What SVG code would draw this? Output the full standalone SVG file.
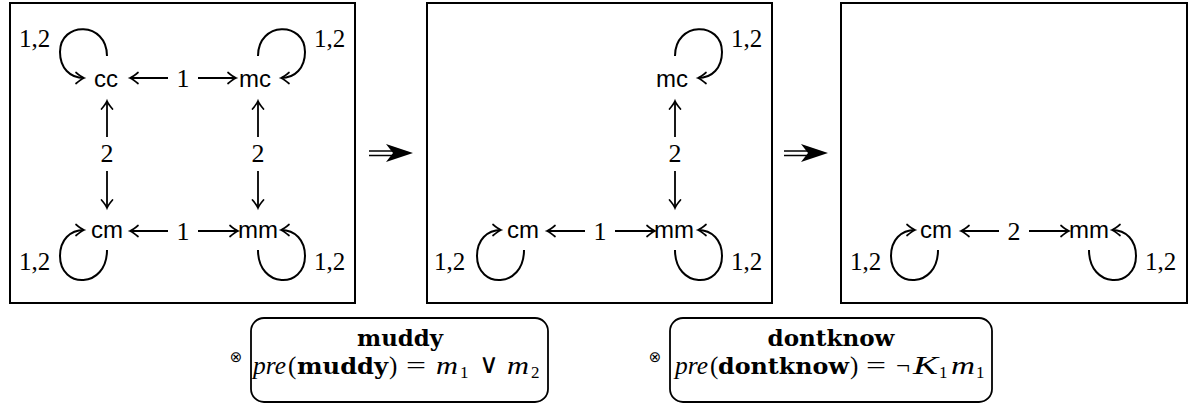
<svg xmlns="http://www.w3.org/2000/svg" width="1199" height="406" viewBox="0 0 1199 406">
<style>
.frame{fill:#fff;stroke:#000;stroke-width:2}
.ev{fill:#fff;stroke:#000;stroke-width:1.8}
.st{font-family:"Liberation Sans","DejaVu Sans",sans-serif;font-size:24px;fill:#000;text-anchor:middle}
.lb{font-family:"Liberation Serif","DejaVu Serif",serif;font-size:25px;fill:#000}
.lbm{font-family:"Liberation Serif","DejaVu Serif",serif;font-size:26px;fill:#000;text-anchor:middle}
.e{fill:none;stroke:#000;stroke-width:1.8;marker-end:url(#to)}
.lp{fill:none;stroke:#000;stroke-width:2;marker-end:url(#to)}
.tx{font-family:"Liberation Serif","DejaVu Serif",serif;font-size:25px;fill:#000}
.b{font-family:"DejaVu Serif","Liberation Serif",serif;font-weight:bold;font-size:22px}
.it{font-style:italic}
.sub{font-size:17px}
.ot{font-family:"DejaVu Sans",sans-serif;font-size:15px;fill:#000;text-anchor:middle}
</style>
<defs>
<marker id="to" markerUnits="userSpaceOnUse" markerWidth="16" markerHeight="16" refX="0" refY="0" viewBox="-10 -8 12 16" orient="auto" overflow="visible">
<path d="M-8,-5.5 Q-3,-1.2 0,0 Q-3,1.2 -8,5.5" fill="none" stroke="#000" stroke-width="1.7" stroke-linecap="round"/>
</marker>
</defs>
<rect width="1199" height="406" fill="#fff"/>

<g id="model1">
<rect class="frame" x="10" y="3" width="345" height="300"/>
</g>
<g id="model2">
<rect class="frame" x="427" y="3" width="345" height="300"/>
</g>
<g id="model3">
<rect class="frame" x="841" y="3" width="346" height="300"/>
</g>

<!-- nodes model 1 -->
<g id="m1-cc"><text class="st" x="106" y="87">cc</text></g>
<g id="m1-mc"><text class="st" x="255" y="87">mc</text></g>
<g id="m1-mm"><text class="st" x="258" y="238">mm</text></g>
<g id="m1-cm"><text class="st" x="107" y="238">cm</text></g>
<!-- nodes model 2 -->
<g id="m2-mc"><text class="st" x="672" y="87">mc</text></g>
<g id="m2-cm"><text class="st" x="523" y="238">cm</text></g>
<g id="m2-mm"><text class="st" x="674" y="238">mm</text></g>
<!-- nodes model 3 -->
<g id="m3-cm"><text class="st" x="936" y="238">cm</text></g>
<g id="m3-mm"><text class="st" x="1089" y="238">mm</text></g>

<g id="connectors">
<g id="c-model1">
<path class="lp" d="M107,56 C107,21 60,21 60,52 C60,68 70,78 84,78"/>
<text class="lb" x="19" y="47">1,2</text>
<path class="lp" d="M258,56 C258,21 305,21 305,52 C305,68 295,78 281,78"/>
<text class="lb" x="314" y="47">1,2</text>
<path class="lp" d="M107,250 C107,289 60,289 60,256 C60,240 70,230 84,230"/>
<text class="lb" x="19" y="270">1,2</text>
<path class="lp" d="M258,250 C258,289 305,289 305,256 C305,240 295,230 281,230"/>
<text class="lb" x="314" y="270">1,2</text>
<path class="e" d="M168,78 H130"/>
<text class="lbm" x="183" y="87">1</text>
<path class="e" d="M198,78 H236"/>
<path class="e" d="M168,231 H130"/>
<text class="lbm" x="183" y="240">1</text>
<path class="e" d="M198,231 H238"/>
<path class="e" d="M107,137 V101"/>
<text class="lbm" x="107" y="162">2</text>
<path class="e" d="M107,171 V208"/>
<path class="e" d="M258,137 V101"/>
<text class="lbm" x="258" y="162">2</text>
<path class="e" d="M258,171 V208"/>
</g>
<g id="c-model2" transform="translate(417,0)">
<path class="lp" d="M258,56 C258,21 305,21 305,52 C305,68 295,78 281,78"/>
<text class="lb" x="314" y="47">1,2</text>
<path class="lp" d="M107,250 C107,289 60,289 60,256 C60,240 70,230 84,230"/>
<text class="lb" x="17" y="270">1,2</text>
<path class="lp" d="M258,250 C258,289 305,289 305,256 C305,240 295,230 281,230"/>
<text class="lb" x="314" y="270">1,2</text>
<path class="e" d="M168,231 H130"/>
<text class="lbm" x="183" y="240">1</text>
<path class="e" d="M198,231 H238"/>
<path class="e" d="M258,137 V101"/>
<text class="lbm" x="258" y="162">2</text>
<path class="e" d="M258,171 V208"/>
</g>
<g id="c-model3" transform="translate(831,0)">
<path class="lp" d="M107,250 C107,289 60,289 60,256 C60,240 70,230 84,230"/>
<text class="lb" x="19" y="270">1,2</text>
<path class="lp" d="M258,250 C258,289 305,289 305,256 C305,240 295,230 281,230"/>
<text class="lb" x="314" y="270">1,2</text>
<path class="e" d="M168,231 H130"/>
<text class="lbm" x="183" y="240">2</text>
<path class="e" d="M198,231 H238"/>
</g>
<g id="update1">
<path d="M369,151 H396 M369,155.5 H396" stroke="#000" stroke-width="1.7" fill="none"/>
<path d="M413,153 L386,144 L393,153 L386,162 Z" fill="#000"/>
</g>
<g id="update2">
<path d="M784,151 H811 M784,155.5 H811" stroke="#000" stroke-width="1.7" fill="none"/>
<path d="M828,153 L801,144 L808,153 L801,162 Z" fill="#000"/>
</g>
</g>

<g id="event-muddy">
<text class="ot" x="236" y="362">⊗</text>
<rect class="ev" x="251" y="318" width="297" height="84" rx="13" ry="13"/>
<text class="tx b" x="400" y="346" text-anchor="middle" textLength="86" lengthAdjust="spacingAndGlyphs">muddy</text>
<text class="tx" y="374"><tspan x="253" class="it" textLength="33" lengthAdjust="spacingAndGlyphs">pre</tspan><tspan x="288">(</tspan><tspan x="297" class="b" textLength="91" lengthAdjust="spacingAndGlyphs">muddy</tspan><tspan x="389">)</tspan><tspan x="406" textLength="20" lengthAdjust="spacingAndGlyphs">=</tspan><tspan x="436" class="it" textLength="22" lengthAdjust="spacingAndGlyphs">m</tspan><tspan x="460" dy="4" class="sub">1</tspan><tspan x="479" dy="-5" font-family="DejaVu Serif" font-size="27">∨</tspan><tspan x="507" dy="1" class="it" textLength="22" lengthAdjust="spacingAndGlyphs">m</tspan><tspan x="531" dy="4" class="sub">2</tspan></text>
</g>

<g id="event-dontknow">
<text class="ot" x="655" y="362">⊗</text>
<rect class="ev" x="670" y="318" width="322" height="84" rx="13" ry="13"/>
<text class="tx b" x="831" y="346" text-anchor="middle" textLength="127" lengthAdjust="spacingAndGlyphs">dontknow</text>
<text class="tx" y="374"><tspan x="675" class="it" textLength="33" lengthAdjust="spacingAndGlyphs">pre</tspan><tspan x="710">(</tspan><tspan x="718" class="b" textLength="131" lengthAdjust="spacingAndGlyphs">dontknow</tspan><tspan x="850">)</tspan><tspan x="866" textLength="20" lengthAdjust="spacingAndGlyphs">=</tspan><tspan x="896">¬</tspan><tspan x="913" class="it" textLength="25" lengthAdjust="spacingAndGlyphs">K</tspan><tspan x="939" dy="4" class="sub">1</tspan><tspan x="951" dy="-4" class="it" textLength="24" lengthAdjust="spacingAndGlyphs">m</tspan><tspan x="976" dy="4" class="sub">1</tspan></text>
</g>
</svg>
